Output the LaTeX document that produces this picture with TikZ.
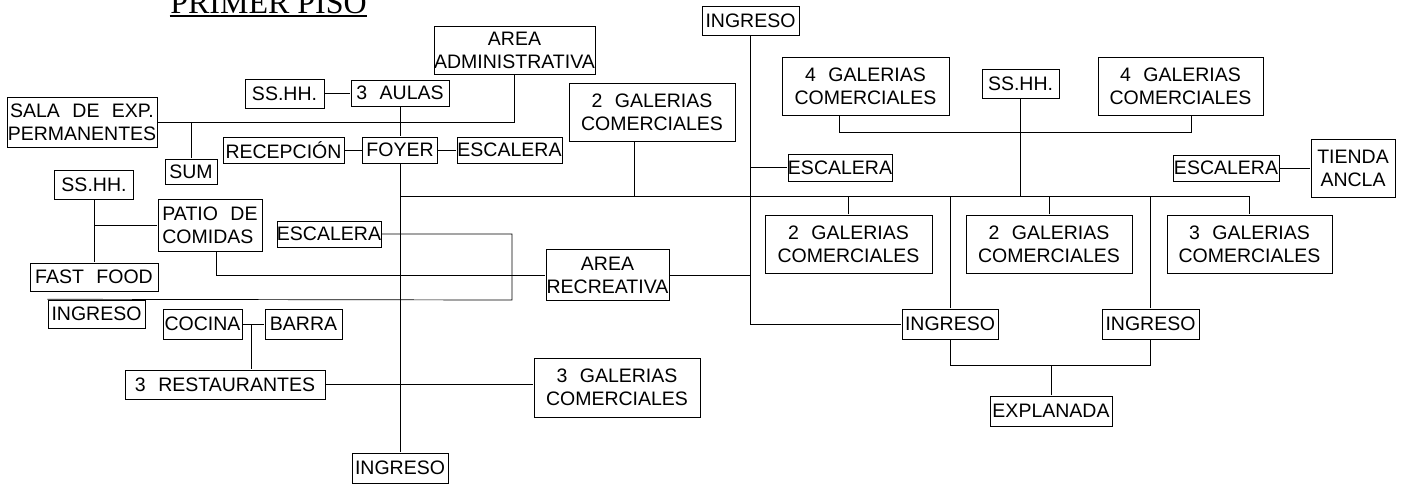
\documentclass[tikz,border=0pt]{standalone}
\usepackage{fontspec}
\setmainfont[WordSpace=2.3]{Liberation Sans}
\newfontfamily\titlefont{Liberation Serif}

\begin{document}
\begin{tikzpicture}[x=0.02cm,y=-0.02cm]
\tikzset{font=\fontsize{11.1}{13}\selectfont}
\tikzset{line width=0.85pt}
\tikzset{caja/.style 2 args={draw, inner sep=0pt, align=center, minimum width=#1*0.02cm, minimum height=#2*0.02cm}}
\useasboundingbox (0,0) rectangle (1415,484);
\node[font=\titlefont\fontsize{18.2}{20}\selectfont, anchor=base, inner sep=0pt] (titulo) at (268.5,13) {PRIMER PISO};
\draw[line width=1.1pt] ([yshift=-0.065cm]titulo.base west) -- ([yshift=-0.065cm]titulo.base east);
\node[caja={97}{29}] (ingA) at (750.5,20.5) {INGRESO};
\node[caja={159}{48}] (admin) at (514.5,50) {AREA\\ADMINISTRATIVA};
\node[caja={79}{29}] (sshhA) at (284.5,93.5) {SS.HH.};
\node[caja={98}{26}] (aulas) at (400,93) {3 AULAS};
\node[caja={150}{50}] (sala) at (82,122) {SALA DE EXP.\\PERMANENTES};
\node[caja={166}{58}] (galA) at (652,112) {2 GALERIAS\\COMERCIALES};
\node[caja={167}{58}] (galB) at (865.5,86) {4 GALERIAS\\COMERCIALES};
\node[caja={77}{29}] (sshhB) at (1020.5,83.5) {SS.HH.};
\node[caja={165}{58}] (galC) at (1180.5,86) {4 GALERIAS\\COMERCIALES};
\node[caja={121}{26}] (recep) at (283.5,150) {RECEPCIÓN};
\node[caja={75}{26}] (foyer) at (400,150) {FOYER};
\node[caja={105}{26}] (escA) at (509.5,150) {ESCALERA};
\node[caja={104}{27}] (escB) at (840,167.5) {ESCALERA};
\node[caja={106}{26}] (escC) at (1226,168) {ESCALERA};
\node[caja={84}{58}] (tienda) at (1353,168) {TIENDA\\ANCLA};
\node[caja={52}{25}] (sum) at (191,171.5) {SUM};
\node[caja={79}{29}] (sshhC) at (94,184.5) {SS.HH.};
\node[caja={104}{52}, align=left] (patio) at (210,225) {PATIO DE\\COMIDAS};
\node[caja={104}{26}] (escD) at (329,234) {ESCALERA};
\node[caja={167}{58}] (galD) at (848.5,244) {2 GALERIAS\\COMERCIALES};
\node[caja={166}{58}] (galE) at (1049,244) {2 GALERIAS\\COMERCIALES};
\node[caja={165}{58}] (galF) at (1249.5,244) {3 GALERIAS\\COMERCIALES};
\node[caja={123}{51}] (recre) at (607.5,275) {AREA\\RECREATIVA};
\node[caja={128}{28}] (fast) at (94,277) {FAST FOOD};
\node[caja={97}{28}] (ingB) at (96.5,314) {INGRESO};
\node[caja={96}{30}] (ingC) at (950,324) {INGRESO};
\node[caja={97}{30}] (ingD) at (1150.5,324) {INGRESO};
\node[caja={79}{30}] (cocina) at (202.5,324) {COCINA};
\node[caja={77}{30}] (barra) at (303.5,324) {BARRA};
\node[caja={200}{29}] (rest) at (225,384.5) {3 RESTAURANTES};
\node[caja={166}{59}] (galG) at (617,387.5) {3 GALERIAS\\COMERCIALES};
\node[caja={122}{30}] (expl) at (1051,411) {EXPLANADA};
\node[caja={96}{30}] (ingE) at (400,468) {INGRESO};
\coordinate (eje) at (400,196);
\coordinate (codo) at (512,300);
\draw (sshhA.east) -- (sshhA.east -| aulas.west);
\draw (aulas) -- (foyer);
\draw (recep) -- (foyer);
\draw (foyer) -- (escA);
\draw (sala.east) -| (admin.south);
\draw (sum.north) -- (sum.north |- sala.east);
\draw (foyer) -- (ingE);
\draw (eje) -| (galF.north);
\draw ([xshift=-0.36cm]galA.south) -- ([xshift=-0.36cm]galA.south |- eje);
\draw ([xshift=-0.53cm]galB.south) -- ++(0,17) -| ([xshift=0.21cm]galC.south);
\draw (sshhB.south) -- (sshhB.south |- eje);
\draw (ingA.south) |- (ingC.west);
\draw (escB.west -| ingA.south) -- (escB.west);
\draw (recre.east) -- (recre.east -| ingA.south);
\draw (galD.north) -- (galD.north |- eje);
\draw (galE.north) -- (galE.north |- eje);
\draw (ingC.north) -- (ingC.north |- eje);
\draw (ingD.north) -- (ingD.north |- eje);
\draw (ingC.south) -- ++(0,26) -| (ingD.south);
\draw (expl.north) -- ++(0,-30);
\draw (escC) -- (tienda);
\draw (sshhC) -- (fast);
\draw (patio.west) -- (patio.west -| sshhC.south);
\draw (escD.east) -| (codo) -- (ingB.north west);
\draw ([xshift=0.12cm]patio.south) |- (recre.west);
\draw (cocina) -- (barra);
\draw ([xshift=0.18cm]cocina.east) -- ([xshift=0.18cm]cocina.east |- rest.north);
\draw (rest.east) -- (rest.east -| galG.west);
\end{tikzpicture}
\end{document}
